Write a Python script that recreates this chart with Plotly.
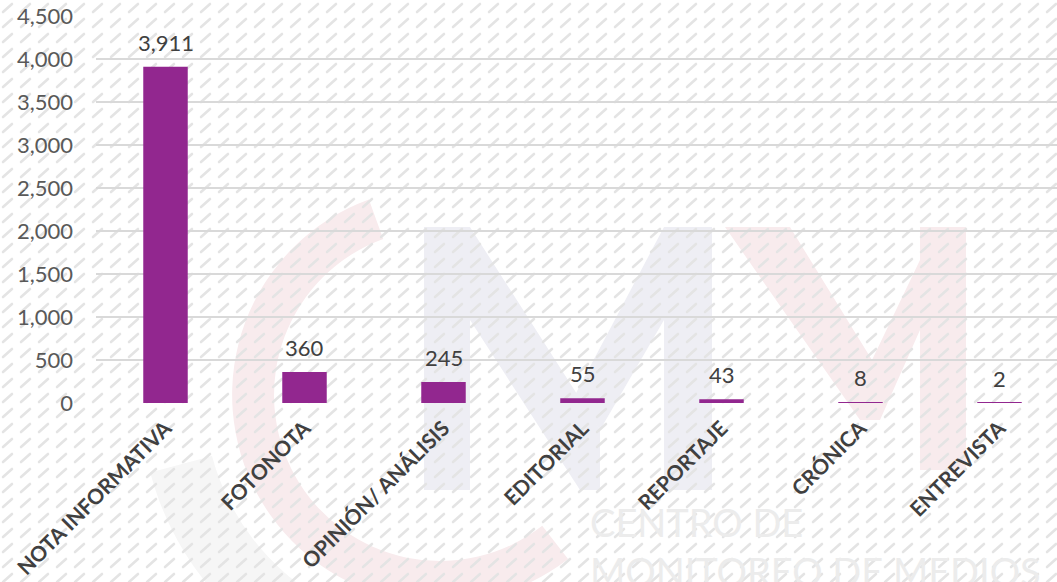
import base64
import math
import plotly.graph_objects as go

# ---- data ----
categories = ["NOTA INFORMATIVA", "FOTONOTA", "OPINIÓN/ ANÁLISIS", "EDITORIAL",
              "REPORTAJE", "CRÓNICA", "ENTREVISTA"]
values = [3911, 360, 245, 55, 43, 8, 2]
y_tick_vals = [0, 500, 1000, 1500, 2000, 2500, 3000, 3500, 4000, 4500]
y_tick_text = ["0", "500", "1,000", "1,500", "2,000", "2,500", "3,000", "3,500", "4,000", "4,500"]

# ---- layout geometry ----
W, H = 1057, 582
ML, MR, MT, MB = 96, 0, 16, 179
PW, PH = W - ML - MR, H - MT - MB

BAR_COLOR = "#92278F"
FONT = "Lato, 'Open Sans', sans-serif"


# ---- decorative watermark background (hatch + faint logo) as inline SVG ----
def arc_band(cx, cy, R, r, a0, a1):
    def pt(rad, a):
        return cx + rad * math.cos(math.radians(a)), cy - rad * math.sin(math.radians(a))
    x0, y0 = pt(R, a0)
    x1, y1 = pt(R, a1)
    x2, y2 = pt(r, a1)
    x3, y3 = pt(r, a0)
    large = 1 if (a1 - a0) % 360 > 180 else 0
    return (f"M{x0:.1f},{y0:.1f} A{R},{R} 0 {large} 0 {x1:.1f},{y1:.1f} "
            f"L{x2:.1f},{y2:.1f} A{r},{r} 0 {large} 1 {x3:.1f},{y3:.1f} Z")


pink = "#f8ebed"
grayblue = "#eeeef4"
lightgray = "#f6f6f6"
svg = f"""<svg xmlns="http://www.w3.org/2000/svg" width="{W}" height="{H}" viewBox="0 0 {W} {H}">
<defs>
<pattern id="h" width="18" height="15" patternUnits="userSpaceOnUse">
<line x1="3" y1="12" x2="12" y2="4" stroke="#e4e4e4" stroke-width="2.6" stroke-linecap="round"/>
</pattern>
</defs>
<rect x="0" y="0" width="{W}" height="{H}" fill="#ffffff"/>
<path d="{arc_band(440, 395, 300, 236, 195, 285)}" fill="{lightgray}"/>
<path d="{arc_band(440, 395, 208, 166, 110, 308)}" fill="{pink}"/>
<polygon points="424,227 470,227 600,430 600,490 580,490 470,320 470,490 424,490" fill="{grayblue}"/>
<polygon points="664,227 712,227 712,490 664,490 664,320 600,430 575,395" fill="{grayblue}"/>
<polygon points="725,227 790,227 872,360 920,260 920,227 966,227 966,470 920,470 920,330 880,420 860,420" fill="{pink}"/>
<rect x="0" y="0" width="{W}" height="{H}" fill="url(#h)"/>
</svg>"""
svg_uri = "data:image/svg+xml;base64," + base64.b64encode(svg.encode("utf-8")).decode("ascii")

fig = go.Figure()
fig.add_trace(go.Bar(
    x=categories,
    y=values,
    width=0.32,
    marker=dict(color=BAR_COLOR, line=dict(width=0)),
    hoverinfo="x+y",
))

# data labels
annotations = []
for c, v in zip(categories, values):
    annotations.append(dict(
        x=c, y=v, xref="x", yref="y", text=f"{v:,}", showarrow=False,
        yanchor="bottom", yshift=9,
        font=dict(family=FONT, size=22, color="#404040"),
    ))

# watermark text
annotations.append(dict(
    x=(588 - ML) / PW, y=1 + (MT - 497) / PH, xref="paper", yref="paper",
    xanchor="left", yanchor="top", showarrow=False, align="left",
    text="CENTRO DE<br>MONITOREO DE MEDIOS",
    font=dict(family=FONT, size=38, color="#ececec"),
))

fig.update_layout(
    width=W, height=H,
    margin=dict(l=ML, r=MR, t=MT, b=MB, pad=0),
    paper_bgcolor="#ffffff",
    plot_bgcolor="rgba(0,0,0,0)",
    showlegend=False,
    font=dict(family=FONT, color="#595959"),
    annotations=annotations,
    images=[dict(
        source=svg_uri, xref="paper", yref="paper",
        x=-ML / PW, y=1 + MT / PH, sizex=W / PW, sizey=H / PH,
        xanchor="left", yanchor="top", sizing="stretch", layer="below", opacity=1,
    )],
    xaxis=dict(
        type="category",
        range=[-0.5, -0.5 + PW / 139.0],
        tickangle=-45,
        tickfont=dict(family=FONT, size=21, color="#404040", weight="bold"),
        showgrid=False, showline=False, zeroline=False, ticks="",
        ticklabelstandoff=8,
    ),
    yaxis=dict(
        range=[0, 4500],
        tickvals=y_tick_vals,
        ticktext=y_tick_text,
        tickfont=dict(family=FONT, size=22, color="#595959"),
        showgrid=True, gridcolor="#d9d9d9", gridwidth=1.5,
        zeroline=False, showline=False, ticks="",
        ticklabelstandoff=22,
    ),
)

fig.write_html(
    "out.html",
    config={"displayModeBar": False},
    post_script="document.body.style.margin='0px';document.body.style.padding='0px';",
)
